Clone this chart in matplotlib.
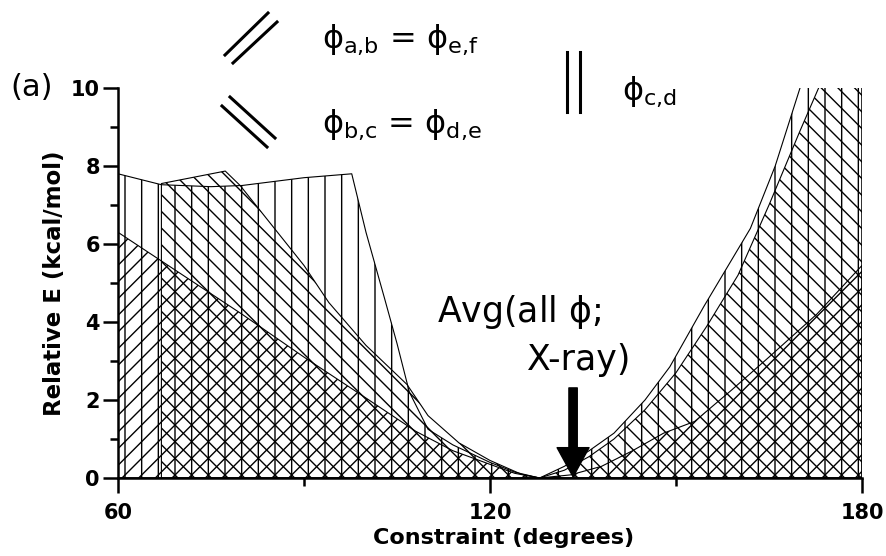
import matplotlib
matplotlib.use("Agg")
import matplotlib.pyplot as plt
from matplotlib.lines import Line2D

plt.rcParams['font.family'] = 'DejaVu Sans'
plt.rcParams['mathtext.fontset'] = 'custom'
plt.rcParams['mathtext.rm'] = 'DejaVu Sans'
plt.rcParams['mathtext.it'] = 'DejaVu Sans'
plt.rcParams['hatch.linewidth'] = 1.0

# phi_c,d  (vertical hatch)
x_cd = [60, 67, 75, 80, 85, 90, 97.7, 100, 103, 105, 107, 110, 114, 120, 124, 128,
        132, 136, 140, 145, 149, 154.5, 162, 166, 170, 175, 180]
y_cd = [7.8, 7.52, 7.47, 7.5, 7.6, 7.7, 7.8, 6.3, 4.6, 3.45, 2.2, 1.25, 0.85, 0.4, 0.15, 0.0,
        0.3, 0.7, 1.15, 2.0, 2.85, 4.4, 6.4, 8.0, 10.0, 12.5, 15.0]

# phi_b,c = phi_d,e  (backslash hatch)
x_bc = [67, 77.3, 79.7, 90, 94, 100, 106.6, 110, 115, 120, 125, 128,
        132, 136, 140, 145, 150, 155, 160, 165, 170, 173, 180]
y_bc = [7.55, 7.87, 7.5, 5.45, 4.5, 3.4, 2.4, 1.6, 0.9, 0.45, 0.1, 0.0,
        0.2, 0.55, 1.0, 1.75, 2.7, 3.9, 5.2, 7.0, 8.9, 10.0, 13.0]

# phi_a,b = phi_e,f  (slash hatch)
x_ab = [60, 70, 80, 90, 100, 108, 114, 120, 124, 128,
        133, 138, 143, 148, 153, 159, 165, 172.7, 180]
y_ab = [6.3, 5.25, 4.2, 3.1, 2.05, 1.2, 0.7, 0.35, 0.12, 0.0,
        0.08, 0.3, 0.7, 1.15, 1.45, 2.26, 3.1, 4.2, 5.45]

arrow_x = 133.4
arrow_top = 2.31

W, H = 887, 556


def fx(px):
    return px / W


def fy(py):
    return 1 - py / H


fig = plt.figure(figsize=(W / 100, H / 100), dpi=100)
ax = fig.add_axes([fx(118), fy(478), (862 - 118) / W, (478 - 88) / H])

for xs, ys, h in [(x_cd, y_cd, '|'), (x_bc, y_bc, '\\\\'), (x_ab, y_ab, '//')]:
    ax.fill_between(xs, 0, ys, facecolor='none', edgecolor='black', hatch=h, linewidth=0.8)

ax.annotate('', xy=(arrow_x, 0.03), xytext=(arrow_x, arrow_top),
            arrowprops=dict(facecolor='black', edgecolor='black', width=6,
                            headwidth=23, headlength=21, shrink=0))

ax.set_xlim(60, 180)
ax.set_ylim(0, 10)
ax.set_xticks([60, 120, 180])
ax.set_xticks([90, 150], minor=True)
ax.set_yticks([0, 2, 4, 6, 8, 10])
ax.set_yticks([1, 3, 5, 7, 9], minor=True)
for s in ['top', 'right']:
    ax.spines[s].set_visible(False)
for s in ['left', 'bottom']:
    ax.spines[s].set_linewidth(1.8)
ax.tick_params(which='major', length=11, width=1.8, labelsize=15)
ax.tick_params(which='minor', length=6, width=1.8)
ax.tick_params(axis='y', pad=2)
ax.tick_params(axis='x', pad=7)
for lab in ax.get_xticklabels() + ax.get_yticklabels():
    lab.set_fontweight('bold')

fig.text(fx(504), fy(538), 'Constraint (degrees)', ha='center', va='center',
         fontsize=16, fontweight='bold')
fig.text(fx(55), fy(283), 'Relative E (kcal/mol)', ha='center', va='center',
         rotation=90, fontsize=16.5, fontweight='bold')

fig.text(fx(10), fy(88), '(a)', ha='left', va='center', fontsize=22)

# hatch legend swatches
swatches = [
    [(225, 55), (268, 13)], [(233, 63), (277, 22)],
    [(230, 97), (275, 138)], [(222, 106), (267, 147)],
    [(567, 52), (567, 112)], [(580, 52), (580, 112)],
]
for (x1, y1), (x2, y2) in swatches:
    fig.add_artist(Line2D([fx(x1), fx(x2)], [fy(y1), fy(y2)], color='black', lw=2.2))

fig.text(fx(322), fy(48), r'$\phi_{a{,}b}$ = $\phi_{e{,}f}$', va='baseline', fontsize=23)
fig.text(fx(322), fy(133), r'$\phi_{b{,}c}$ = $\phi_{d{,}e}$', va='baseline', fontsize=23)
fig.text(fx(622), fy(100), r'$\phi_{c{,}d}$', va='baseline', fontsize=23)

fig.text(fx(437), fy(322), r'Avg(all $\phi$;', va='baseline', fontsize=25)
fig.text(fx(527), fy(370), 'X-ray)', va='baseline', fontsize=25)

fig.savefig('out.png', dpi=100)
